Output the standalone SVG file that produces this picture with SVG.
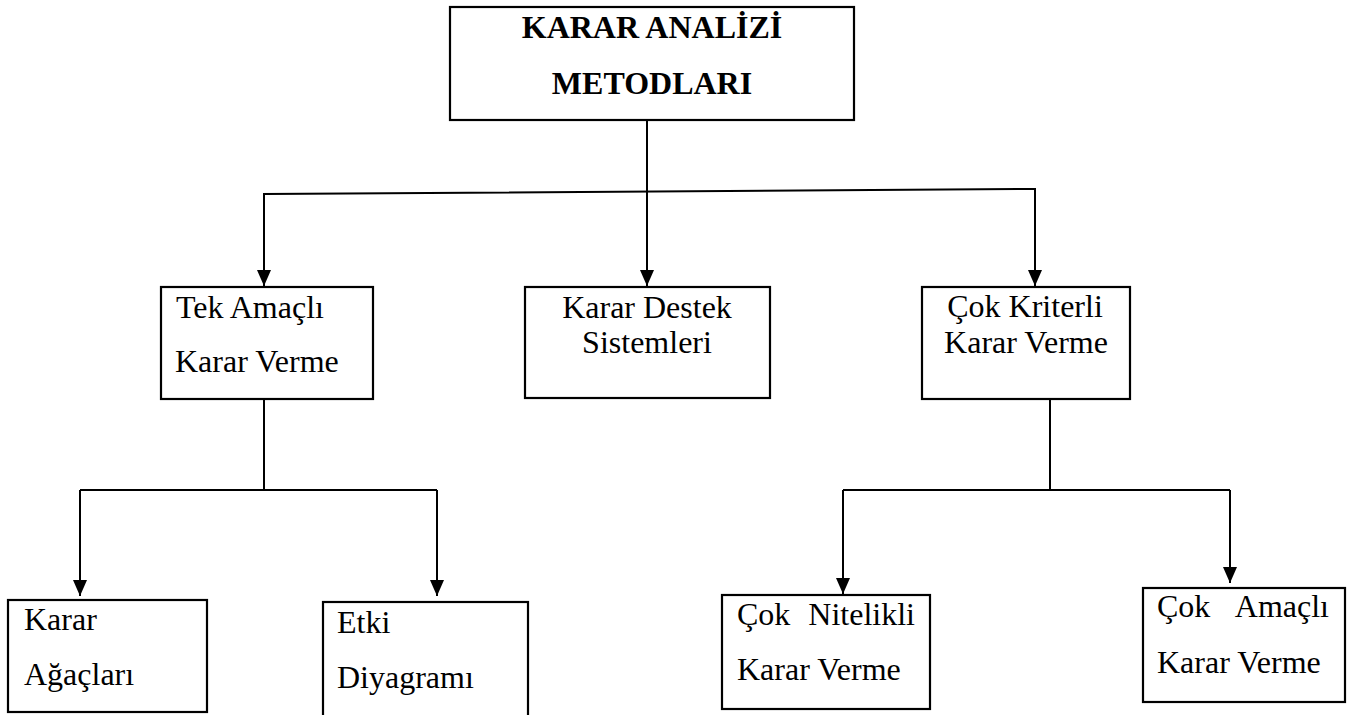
<svg xmlns="http://www.w3.org/2000/svg" width="1354" height="715" viewBox="0 0 1354 715">
<style>
.box{fill:#fff;stroke:#000;stroke-width:2.2}
.t{font-family:"Liberation Serif","Times New Roman",serif;font-size:32px;fill:#000}
.b{font-weight:bold;text-anchor:middle}
.c{text-anchor:middle}
.e{text-anchor:end}
.ln{fill:none;stroke:#000;stroke-width:2}
.ar{marker-end:url(#ah)}
</style>
<defs>
<marker id="ah" markerUnits="userSpaceOnUse" markerWidth="16" markerHeight="14" refX="16" refY="7" orient="auto" viewBox="0 0 16 14">
<path d="M0,0 L16,7 L0,14 Z" fill="#000"/>
</marker>
</defs>
<rect width="1354" height="715" fill="#fff"/>
<g id="connectors">
<line class="ln ar" x1="647" y1="120" x2="647" y2="286"/>
<polyline class="ln" points="264,286 264,194 1035,189 1035,286" style="marker:none"/>
<line class="ln ar" x1="264" y1="194" x2="264" y2="286"/>
<line class="ln ar" x1="1035" y1="189" x2="1035" y2="286"/>
<line class="ln" x1="264" y1="399" x2="264" y2="490"/>
<line class="ln" x1="80" y1="490" x2="437" y2="490"/>
<line class="ln ar" x1="80" y1="490" x2="80" y2="596"/>
<line class="ln ar" x1="437" y1="490" x2="437" y2="596"/>
<line class="ln" x1="1050" y1="399" x2="1050" y2="490"/>
<line class="ln" x1="843" y1="490" x2="1230" y2="490"/>
<line class="ln ar" x1="843" y1="490" x2="843" y2="594"/>
<line class="ln ar" x1="1230" y1="490" x2="1230" y2="583"/>
</g>
<g id="node-root">
<rect class="box" x="450" y="7" width="404" height="113"/>
<text class="t b" x="652" y="38">KARAR ANALİZİ</text>
<text class="t b" x="652" y="94">METODLARI</text>
</g>
<g id="node-tek">
<rect class="box" x="161" y="287" width="212" height="112"/>
<text class="t" x="176" y="318">Tek Amaçlı</text>
<text class="t" x="175" y="372">Karar Verme</text>
</g>
<g id="node-kds">
<rect class="box" x="525" y="287" width="245" height="111"/>
<text class="t c" x="647" y="318">Karar Destek</text>
<text class="t c" x="647" y="353">Sistemleri</text>
</g>
<g id="node-cok">
<rect class="box" x="922" y="287" width="208" height="112"/>
<text class="t c" x="1025" y="317">Çok Kriterli</text>
<text class="t c" x="1026" y="353">Karar Verme</text>
</g>
<g id="node-agac">
<rect class="box" x="8" y="600" width="199" height="112"/>
<text class="t" x="24" y="630">Karar</text>
<text class="t" x="24" y="685">Ağaçları</text>
</g>
<g id="node-etki">
<rect class="box" x="323" y="602" width="205" height="130"/>
<text class="t" x="337" y="633">Etki</text>
<text class="t" x="337" y="688">Diyagramı</text>
</g>
<g id="node-nitelikli">
<rect class="box" x="722" y="595" width="208" height="114"/>
<text class="t" x="737" y="625">Çok</text>
<text class="t e" x="915" y="625">Nitelikli</text>
<text class="t" x="737" y="680">Karar Verme</text>
</g>
<g id="node-amacli">
<rect class="box" x="1143" y="588" width="202" height="114"/>
<text class="t" x="1157" y="617">Çok</text>
<text class="t e" x="1329" y="617">Amaçlı</text>
<text class="t" x="1157" y="673">Karar Verme</text>
</g>
</svg>
